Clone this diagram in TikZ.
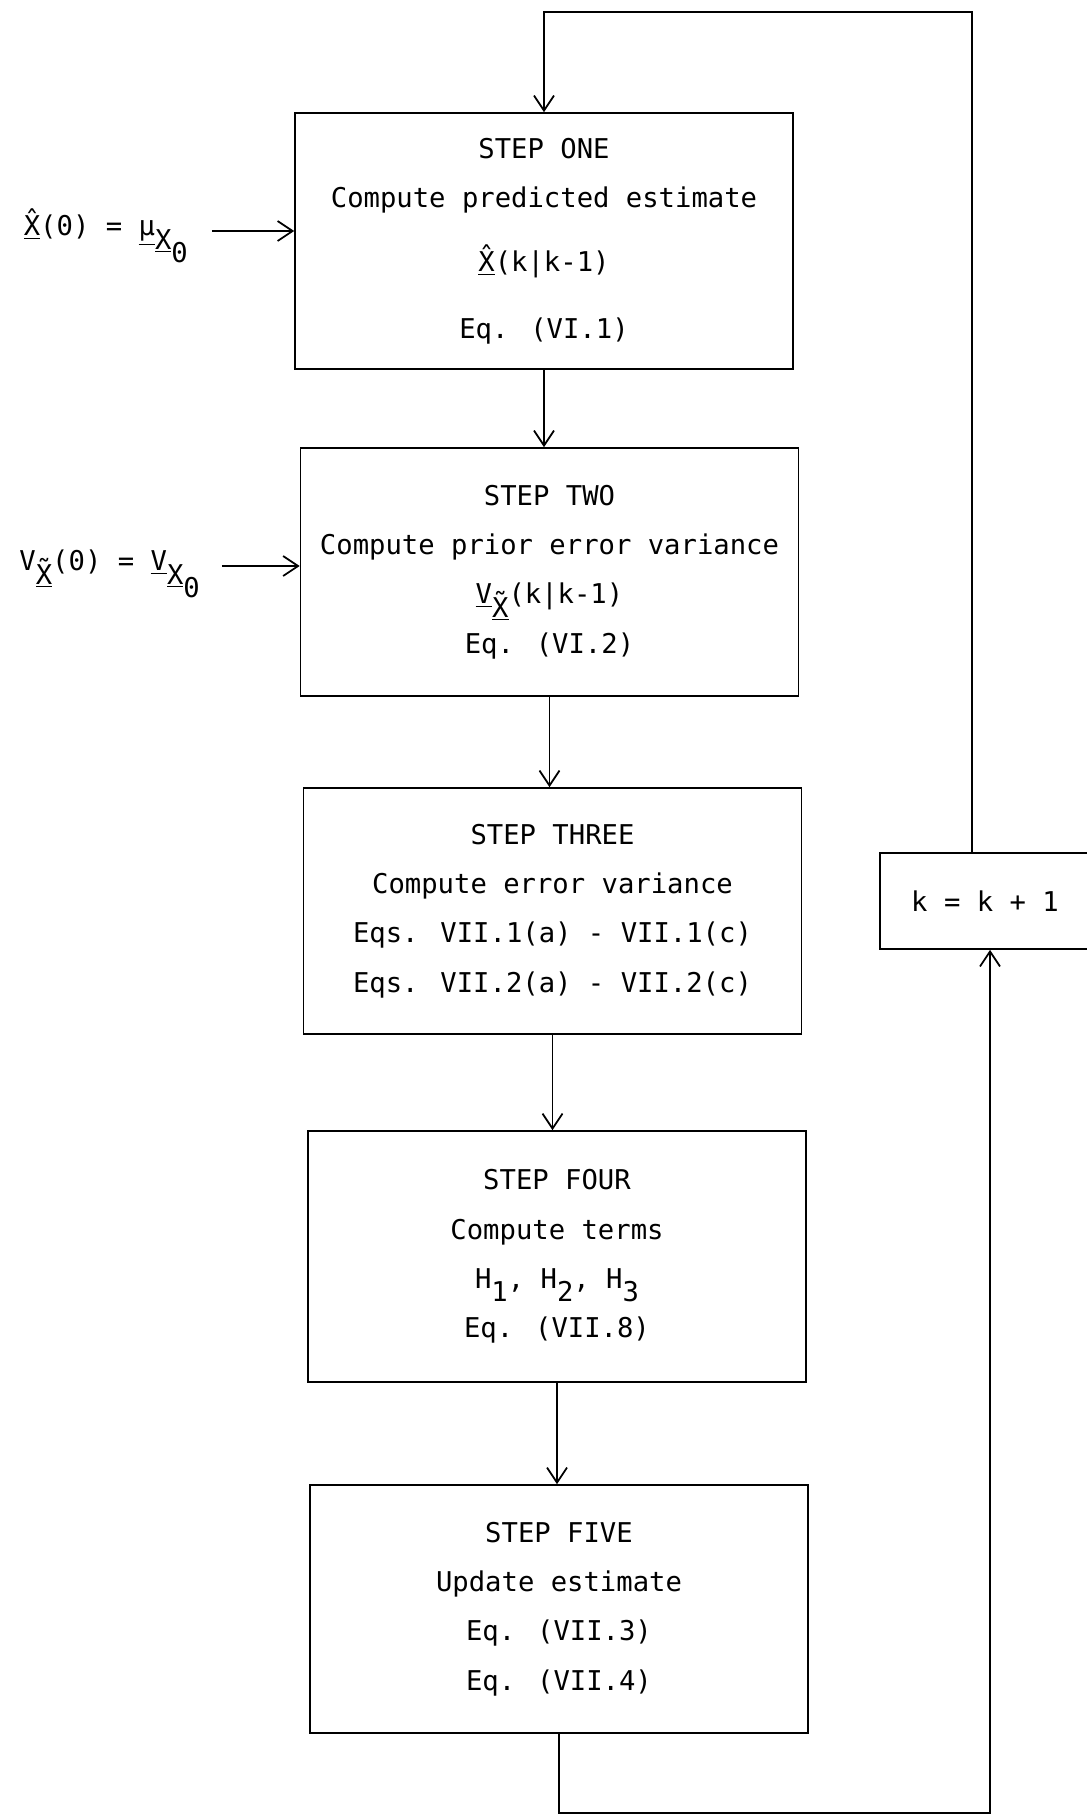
\documentclass[tikz,border=0pt]{standalone}
\usepackage{fontspec}
\setmainfont{DejaVu Sans Mono}
\usepackage{tikz}
\usetikzlibrary{positioning}
\usetikzlibrary{arrows.meta}
\newcommand{\ul}[1]{\underline{#1}}
\newcommand{\dn}[1]{\raisebox{-0.9ex}{#1}}
\tikzset {
  >={Straight Barb[length=3mm, width=4mm]},
  % the five step boxes
  stepbox/.style = {draw, rectangle, line width=1pt, minimum width=9.96cm,
    align=center, font=\fontsize{15.5}{28}\selectfont},
  % counter box on the right
  countbox/.style = {draw, rectangle, line width=1pt, minimum width=4.2cm,
    minimum height=1.92cm, font=\fontsize{15.5}{28}\selectfont},
  % initial values on the left
  initlabel/.style = {font=\fontsize{15.5}{28}\selectfont},
  flow/.style = {->, line width=1pt},
}

\begin{document}
\begin{tikzpicture}[x=0.02cm, y=-0.02cm]
  \useasboundingbox (0,0) rectangle (1087,1816);

  \node[stepbox, minimum height=5.12cm] (s1) at (544,241)
    {STEP ONE\\ Compute predicted estimate\\[0.3cm]
     \ul{\^{X}}(k|k-1)\\[0.34cm] Eq. (VI.1)};
  \node[stepbox, minimum height=4.96cm] (s2) at (549.5,572)
    {STEP TWO\\ Compute prior error variance\\
     \ul{V}\dn{\ul{\~{X}}}(k|k-1)\\ Eq. (VI.2)};
  \node[stepbox, minimum height=4.92cm] (s3) at (552.5,911)
    {STEP THREE\\ Compute error variance\\
     Eqs. VII.1(a) - VII.1(c)\\ Eqs. VII.2(a) - VII.2(c)};
  \node[stepbox, minimum height=5.02cm] (s4) at (557,1256.5)
    {STEP FOUR\\ Compute terms\\
     H\dn{1}, H\dn{2}, H\dn{3}\\ Eq. (VII.8)};
  \node[stepbox, minimum height=4.96cm] (s5) at (559,1609)
    {STEP FIVE\\ Update estimate\\ Eq. (VII.3)\\ Eq. (VII.4)};

  \node[countbox] (kk) at (985,901) {k = k + 1};

  \node[initlabel, anchor=mid east] (x0) at (194,231)
    {\ul{\^{X}}(0) = \ul{μ}\dn{\ul{X}\dn{0}}};
  \node[initlabel, anchor=mid east] (v0) at (206,566)
    {V\dn{\ul{\~{X}}}(0) = \ul{V}\dn{\ul{X}\dn{0}}};

  \draw[flow, shorten <=0.36cm] (x0.mid east) -- (x0.mid east -| s1.west);
  \draw[flow, shorten <=0.32cm] (v0.mid east) -- (v0.mid east -| s2.west);

  \foreach \a/\b in {s1/s2, s2/s3, s3/s4, s4/s5}
    \draw[flow] (\a.south) -- (\a.south |- \b.north);

  % loop back through the counter
  \coordinate (ktop) at (972,12);
  \coordinate (kbot) at (990,1813);
  \draw[flow] (kk.north -| ktop) -- (ktop) -| (s1.north);
  \draw[flow] (s5.south) |- (kbot) -- (kk.south -| kbot);
\end{tikzpicture}
\end{document}
